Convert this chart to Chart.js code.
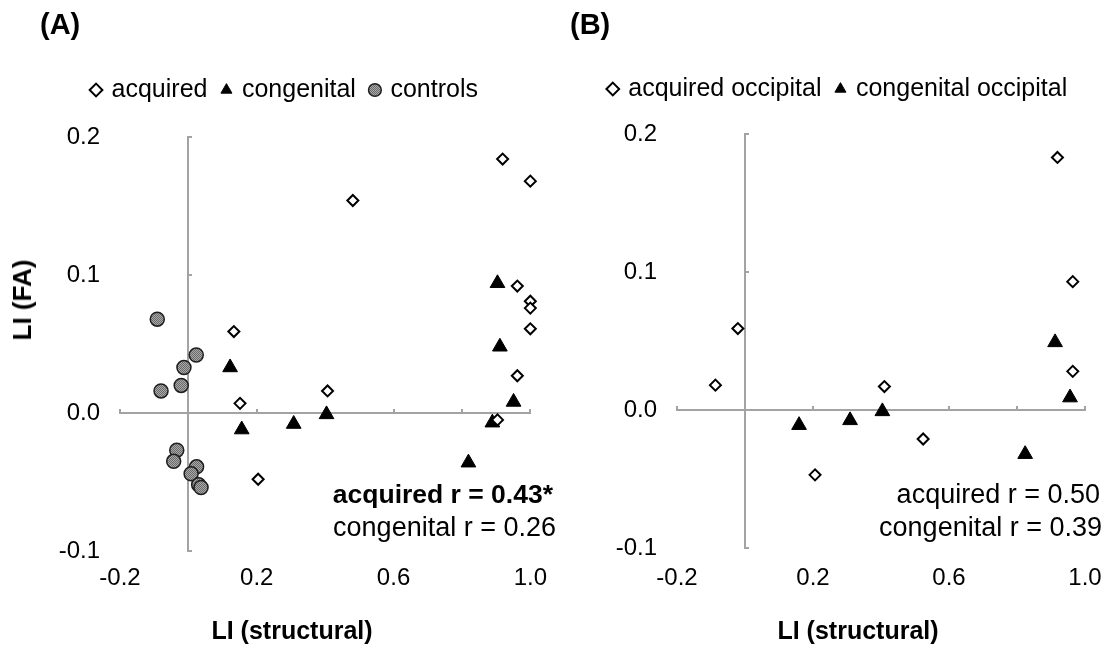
<!DOCTYPE html>
<html>
<head>
<meta charset="utf-8">
<script src="https://cdn.jsdelivr.net/npm/chart.js@4.4.1/dist/chart.umd.min.js"></script>
<style>
  html, body { margin: 0; padding: 0; background: #fff; }
  #wrap { position: relative; width: 1119px; height: 648px; overflow: hidden;
          font-family: "Liberation Sans", Arial, Helvetica, sans-serif; color: #000; }
  canvas { position: absolute; top: 0; }
  #chartA { left: 0; }
  #chartB { left: 560px; }
  .txt { position: absolute; white-space: nowrap; line-height: 1; }
  .panel-tag { font-size: 29px; font-weight: bold; transform: translateY(-50%); }
  .axis-title { font-size: 25px; font-weight: bold; transform: translate(-50%, -50%); }
  .axis-title.vertical { transform: translate(-50%, -50%) rotate(-90deg); font-size: 26px; }
  .corr { font-size: 27px; transform: translateY(-50%); }
  .corr.bold { font-weight: bold; font-size: 26.5px; }
</style>
</head>
<body>
<div id="wrap">
  <canvas id="chartA" width="560" height="648"></canvas>
  <canvas id="chartB" width="559" height="648"></canvas>

  <div class="txt panel-tag" style="left:40px; top:24px;">(A)</div>
  <div class="txt panel-tag" style="left:570px; top:24px;">(B)</div>

  <div class="txt axis-title vertical" style="left:22px; top:300px;">LI (FA)</div>
  <div class="txt axis-title" style="left:292px; top:630px;">LI (structural)</div>
  <div class="txt axis-title" style="left:858px; top:630px;">LI (structural)</div>

  <div class="txt corr bold" style="right:566px; top:494px;">acquired r = 0.43*</div>
  <div class="txt corr" style="right:563px; top:527px;">congenital r = 0.26</div>
  <div class="txt corr" style="right:19px; top:494px;">acquired r = 0.50</div>
  <div class="txt corr" style="right:17px; top:527px;">congenital r = 0.39</div>
</div>

<script>
// Axis tick labels
const xTickLabels = ['-0.2', '0.2', '0.6', '1.0'];
const yTickLabels = ['-0.1', '0.0', '0.1', '0.2'];

// Series names
const seriesNamesA = ['acquired', 'congenital', 'controls'];
const seriesNamesB = ['acquired occipital', 'congenital occipital'];

// (A) laterality index: structural (x) vs FA (y)
const acquiredStructA   = [0.919, 1.000, 0.481, 0.962, 1.000, 1.000, 1.000, 0.133, 0.962, 0.407, 0.151, 0.904, 0.204];
const acquiredFaA       = [0.184, 0.168, 0.154, 0.092, 0.081, 0.076, 0.061, 0.059, 0.027, 0.016, 0.007, -0.005, -0.048];
const congenitalStructA = [0.904, 0.911, 0.122, 0.951, 0.404, 0.308, 0.156, 0.889, 0.819];
const congenitalFaA     = [0.094, 0.048, 0.033, 0.008, -0.001, -0.008, -0.012, -0.007, -0.036];
const controlsStructA   = [-0.091, 0.023, -0.013, -0.021, -0.080, -0.034, -0.043, 0.024, 0.008, 0.030, 0.037];
const controlsFaA       = [0.068, 0.042, 0.033, 0.020, 0.016, -0.027, -0.035, -0.039, -0.044, -0.052, -0.054];

// (B) occipital laterality index: structural (x) vs FA (y)
const acquiredStructB   = [0.919, 0.964, -0.021, -0.087, 0.410, 0.964, 0.524, 0.206];
const acquiredFaB       = [0.183, 0.093, 0.059, 0.018, 0.017, 0.028, -0.021, -0.047];
const congenitalStructB = [0.912, 0.956, 0.404, 0.309, 0.159, 0.824];
const congenitalFaB     = [0.049, 0.009, -0.001, -0.0075, -0.011, -0.032];

Chart.defaults.font.family = '"Liberation Sans", Arial, Helvetica, sans-serif';
Chart.defaults.color = '#000';

const axisGrey = '#a3a3a3';

function points(xs, ys) {
  return xs.map((x, i) => ({ x: x, y: ys[i] }));
}

// stippled grey fill for the control markers
function stipple() {
  const c = document.createElement('canvas');
  c.width = 2; c.height = 2;
  const g = c.getContext('2d');
  g.fillStyle = '#a9a9a9'; g.fillRect(0, 0, 2, 2);
  g.fillStyle = '#6a6a6a'; g.fillRect(0, 0, 1, 1); g.fillRect(1, 1, 1, 1);
  return g.createPattern(c, 'repeat');
}

const markerStyles = {
  acquired:   { pointStyle: 'rectRot', radius: 5.5, fill: '#ffffff', stroke: '#000000', width: 2 },
  congenital: { pointStyle: 'triangle', radius: 8.5, fill: '#000000', stroke: '#000000', width: 1 },
  controls:   { pointStyle: 'circle', radius: 7, fill: stipple(), stroke: '#1e1e1e', width: 1.5 }
};

function dataset(label, kind, xs, ys) {
  const m = markerStyles[kind];
  return {
    label: label,
    data: points(xs, ys),
    pointStyle: m.pointStyle,
    pointRadius: m.radius,
    pointHoverRadius: m.radius,
    backgroundColor: m.fill,
    borderColor: m.stroke,
    borderWidth: m.width,
    pointBackgroundColor: m.fill,
    pointBorderColor: m.stroke,
    pointBorderWidth: m.width,
    clip: false
  };
}

function tickText(list) {
  return function (v) {
    const s = (Math.abs(v) < 1e-9 ? 0 : v).toFixed(1);
    return list.includes(s) ? s : '';
  };
}

function buildChart(canvasId, datasets, L) {
  return new Chart(document.getElementById(canvasId), {
    type: 'scatter',
    data: { datasets: datasets },
    options: {
      responsive: false,
      animation: false,
      events: [],
      layout: { padding: { left: L.padLeft, right: L.padRight, top: L.padTop, bottom: L.padBottom } },
      plugins: {
        legend: {
          position: 'top',
          align: 'center',
          labels: {
            usePointStyle: true,
            boxWidth: 6,
            boxHeight: 9,
            padding: 16,
            color: '#000',
            font: { size: 25 }
          }
        },
        tooltip: { enabled: false }
      },
      scales: {
        // tick labels along the bottom edge
        x: {
          type: 'linear', position: 'bottom', min: -0.2, max: 1.0,
          grid: { display: false, drawTicks: false },
          border: { display: false },
          ticks: { stepSize: 0.2, autoSkip: false, maxRotation: 0, padding: L.xTickPad,
                   font: { size: 24 }, color: '#000', callback: tickText(xTickLabels) },
          afterFit: s => { s.height = 60; }
        },
        // tick labels along the left edge
        y: {
          type: 'linear', position: 'left', min: -0.1, max: 0.2,
          grid: { display: false, drawTicks: false },
          border: { display: false },
          ticks: { stepSize: 0.1, padding: 20, font: { size: 24 }, color: '#000',
                   callback: tickText(yTickLabels) },
          afterFit: s => { s.width = L.yWidth; }
        },
        // axis lines crossing at the origin, with inward tick marks
        xLine: {
          type: 'linear', axis: 'x', position: { y: 0 }, min: -0.2, max: 1.0,
          ticks: { display: false, stepSize: 0.2 },
          grid: { display: true, drawOnChartArea: false, drawTicks: true, tickLength: -5,
                  color: axisGrey, lineWidth: 2 },
          border: { display: true, color: axisGrey, width: 2 }
        },
        yLine: {
          type: 'linear', axis: 'y', position: { x: 0 }, min: -0.1, max: 0.2,
          ticks: { display: false, stepSize: 0.1 },
          grid: { display: true, drawOnChartArea: false, drawTicks: true, tickLength: -5,
                  color: axisGrey, lineWidth: 2 },
          border: { display: true, color: axisGrey, width: 2 }
        },
        // blank band between the legend and the plot
        xGap: {
          type: 'linear', axis: 'x', position: 'top',
          ticks: { display: false },
          grid: { display: false, drawTicks: false },
          border: { display: false },
          afterFit: s => { s.height = L.gap; }
        }
      }
    }
  });
}

buildChart('chartA', [
  dataset(seriesNamesA[0], 'acquired', acquiredStructA, acquiredFaA),
  dataset(seriesNamesA[1], 'congenital', congenitalStructA, congenitalFaA),
  dataset(seriesNamesA[2], 'controls', controlsStructA, controlsFaA)
], { padLeft: 38, yWidth: 82, padRight: 27, padTop: 61.5, gap: 24.5, padBottom: 37, xTickPad: 13 });

buildChart('chartB', [
  dataset(seriesNamesB[0], 'acquired', acquiredStructB, acquiredFaB),
  dataset(seriesNamesB[1], 'congenital', congenitalStructB, congenitalFaB)
], { padLeft: 32, yWidth: 85, padRight: 34, padTop: 60.5, gap: 22.5, padBottom: 40, xTickPad: 16 });
</script>
</body>
</html>
